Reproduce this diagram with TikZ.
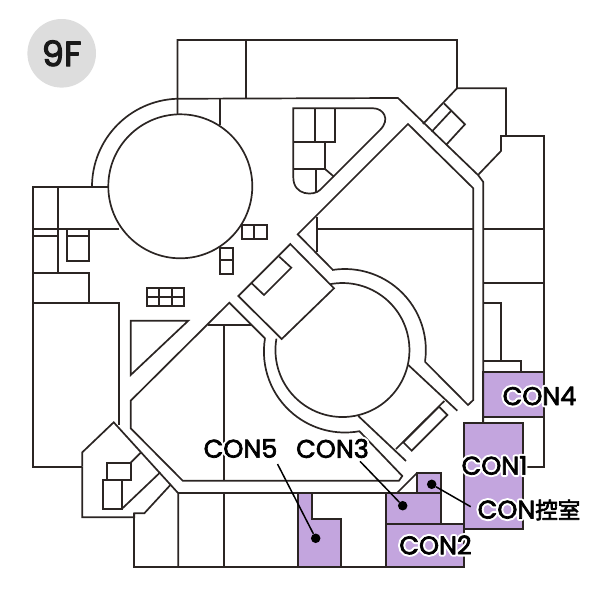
\documentclass[tikz,border=0pt]{standalone}
\usepackage{fontspec}
\setmainfont{Poppins}
\newfontfamily\lab{Poppins}
\newfontfamily\cjk{Noto Sans CJK JP}
\definecolor{ink}{HTML}{2B2523}
\definecolor{room}{HTML}{C3A5DE}
\definecolor{badge}{HTML}{DDDDDD}
% stroked text: #1 = width, #2 = grey level of stroke and fill, #3 = text
\newcommand{\strk}[3]{\special{pdf:code 2 Tr #1 w 1 j #2 #2 #2 RG #2 #2 #2 rg}#3\special{pdf:code 0 Tr 0 0 0 rg 0 0 0 RG}}
\newcommand{\halotext}[2]{\makebox[0pt][l]{\strk{4.8}{1}{\lab #1{\cjk\fontsize{22.5}{22.5}\selectfont #2}}}\strk{0.7}{0}{\lab #1{\cjk\fontsize{22.5}{22.5}\selectfont #2}}}
\tikzset{
  wall/.style={draw=ink,line width=1.7pt,line join=miter},
  roomfill/.style={wall,fill=room},
  leader/.style={draw=black,line width=1.5pt},
  dot/.style={circle,fill=black,inner sep=0pt,minimum size=9.5pt},
  tag/.style={inner sep=0pt,font=\fontsize{25.5}{25.5}\selectfont}
}
\begin{document}
\begin{tikzpicture}[x=1pt,y=1pt,yscale=-1]
\useasboundingbox (0,0) rectangle (600,600);
% badge
\node[circle,fill=badge,minimum size=68.6pt,inner sep=0pt] (badge) at (61.7,53.3) {};
\node[inner sep=0pt,font=\lab\fontsize{35}{35}\selectfont] (floor) at (61.7,53.3) {\strk{1.1}{0.1}{9F}};
% purple rooms
\draw[roomfill] (297.7,493.3) -- (311.7,493.3) -- (311.7,519.3) -- (340.7,519.3) -- (340.7,567.3) -- (297.7,567.3) -- cycle;
\draw[roomfill] (386,493.3) rectangle (441,524);
\draw[roomfill] (416.7,473.3) rectangle (441,493.3);
\draw[roomfill] (386,524) rectangle (464,567.3);
\draw[roomfill] (464,422.7) rectangle (523.3,529.3);
\draw[roomfill] (483.3,372.3) rectangle (543.7,417.3);
% top building
\draw[wall] (177.5,114.5) -- (177.5,40) -- (457,40) -- (457,88.3) -- (423,124);
\draw[wall] (246,40) -- (246,98);
\draw[wall] (220,125) -- (220,98);
\draw[wall] (92,186.7) arc[start angle=180,end angle=268,radius=88pt] -- (398,98) -- (478,175) -- (483.3,182) -- (483.3,422.7);
% NE wing
\draw[wall] (457,88.3) -- (506,88.3) -- (506,136) -- (501,136) -- (501,151) -- (478,175);
\draw[wall] (501,136) -- (543.7,136) -- (543.7,466.7) -- (523.3,466.7);
\draw[wall] (444,103.3) -- (465,124.3) -- (446,145);
\draw[wall] (431.7,131.7) -- (451,111);
\draw[wall] (483.3,228.7) -- (543.7,228.7);
\draw[wall] (483.3,282.7) -- (543.7,282.7);
\draw[wall] (483.3,302.7) -- (500.7,302.7) -- (500.7,360.7);
\draw[wall] (483.3,360.7) -- (520.7,360.7) -- (520.7,372.3);
% first circle
\draw[wall] (180.3,186.3) circle[radius=72pt];
% west block
\draw[wall] (108.3,186.7) -- (33.3,186.7) -- (33.3,466.7) -- (82.3,466.7);
\draw[wall] (58.3,186.7) -- (58.3,273.3);
\draw[wall] (33.3,228.7) -- (118.7,228.7);
\draw[wall] (33.3,236) -- (58.3,236);
\draw[wall] (33.3,273.3) -- (88.7,273.3) -- (88.7,302.7);
\draw[wall] (33.3,302.7) -- (118.7,302.7) -- (118.7,425);
\draw[wall] (66.7,228.7) rectangle (88.7,261.3);
\draw[wall] (66.7,236) -- (88.7,236);
% small closets
\draw[wall] (242,225.3) rectangle (266.7,239.3);
\draw[wall] (254.3,225.3) -- (254.3,239.3);
\draw[wall] (219.7,247.7) rectangle (233.3,274);
\draw[wall] (219.7,259.7) -- (233.3,259.7);
\draw[wall] (147.3,288) rectangle (184.3,306);
\draw[wall] (147.3,296.7) -- (184.3,296.7);
\draw[wall] (159.3,288) -- (159.3,306);
\draw[wall] (171.7,288) -- (171.7,306);
\draw[wall] (130.7,320.7) -- (188.3,320.7) -- (130.7,375) -- cycle;
% pill room
\draw[wall] (293.3,108.3) -- (373.3,108.3) .. controls (383,108.3) and (391,119) .. (380,130) -- (320,190) .. controls (314,196) and (293.3,196) .. (293.3,177.3) -- cycle;
\draw[wall] (314.7,108.3) -- (314.7,142.3);
\draw[wall] (335,108.3) -- (335,142.3) -- (293.3,142.3);
\draw[wall] (325,142.3) -- (325,169) -- (293.3,169);
\draw[wall] (315.7,169) -- (315.7,192.7);
\draw[wall] (325,169) -- (334,176.7);
% central walls
\draw[wall] (332.3,269.3) -- (297.7,234.3) -- (408,124) -- (473.3,188.3) -- (473.3,400) -- (468,405) -- (425,361.7);
\draw[wall] (425,361.7) arc[start angle=368.3,end angle=261,radius=81pt];
\draw[wall] (316.7,216.7) -- (316.7,251.7);
\draw[wall] (316.7,228.7) -- (473.3,228.7);
% door block
\draw[wall] (238.3,296) -- (290.3,244) -- (334,288.3) -- (281.7,339) -- cycle;
\draw[wall] (251.7,283.3) -- (264,295) -- (291.3,267.7) -- (279.3,256.7);
% second circle
\draw[wall] (330,284.2) arc[start angle=259.3,end angle=549.8,radius=67pt];
\draw[wall] (265,338.3) arc[start angle=189.4,end angle=79.7,radius=81pt] -- (402.3,476) -- (399,480.7) -- (182.7,480.7) -- (130.7,428.3) -- (130.7,400.7) -- (229.3,302.7) -- (265,338.3);
\draw[wall] (208.3,325) -- (251.7,325);
\draw[wall] (224.3,325) -- (224.3,480.7);
% SE door
\draw[wall] (408.3,365) -- (457.3,410.7);
\draw[wall] (358.3,416) -- (406,461);
\draw[wall] (444.3,401) -- (396,449);
\draw[wall] (439,406.7) -- (447.3,415) -- (411.7,450.7) -- (403.3,442.3) -- cycle;
% SW wing
\draw[wall] (82.3,466.7) -- (82.3,452.3) -- (113.7,422.3) -- (178.3,493.3) -- (178.3,567.3);
\draw[wall] (82.3,466.7) -- (82.3,517.3) -- (134.3,517.3) -- (134.3,513.3) -- (144.3,513.3) -- (171,484.3);
\draw[wall] (134.3,513.3) -- (134.3,567.3) -- (386,567.3);
\draw[wall] (107.3,462.7) rectangle (130.7,480.3);
\draw[wall] (103.3,480.3) rectangle (121.7,509);
\draw[wall] (130.7,462.7) -- (140.7,452.7);
\draw[wall] (121.7,509) -- (160.3,472.3);
% south strip
\draw[wall] (178.3,493.3) -- (416.7,493.3);
\draw[wall] (224.3,493.3) -- (224.3,567.3);
\draw[wall] (396.7,493.3) -- (416.7,473.3);
\draw[wall] (386,493.3) -- (386,567.3);
\draw[wall] (483.3,417.3) -- (483.3,422.7);
% dots and leaders
\node[dot] (d5) at (315.7,538.3) {};
\node[dot] (d3) at (402.7,505.7) {};
\node[dot] (dc) at (431.7,484.3) {};
\coordinate (l5) at (277.5,464);
\coordinate (l3) at (360,461.3);
\coordinate (lc) at (470.7,506.7);
\draw[leader] (l5) -- (d5);
\draw[leader] (l3) -- (d3);
\draw[leader] (lc) -- (dc);
% labels
\node[tag] (con5) at (240.5,448.5) {\halotext{CON5}{}};
\node[tag] (con3) at (332.5,448.5) {\halotext{CON3}{}};
\node[tag] (con4) at (539.5,396) {\halotext{CON4}{}};
\node[tag] (con1) at (494.5,465.5) {\halotext{CON1}{}};
\node[tag] (con2) at (435.5,545) {\halotext{CON2}{}};
\node[tag] (conc) at (529,510) {\halotext{CON}{控室}};
\end{tikzpicture}
\end{document}
